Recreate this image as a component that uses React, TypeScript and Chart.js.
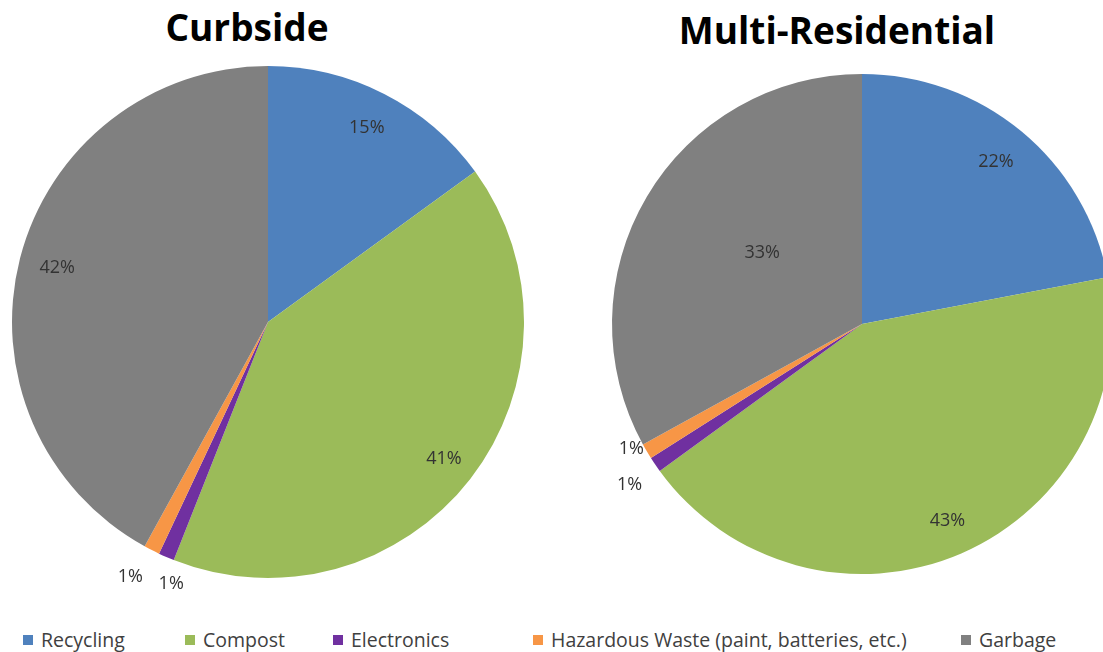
import React, { useEffect, useRef } from "react";
import { Chart, registerables } from "chart.js";

Chart.register(...registerables);

const categories = ["Recycling", "Compost", "Electronics", "Hazardous Waste (paint, batteries, etc.)", "Garbage"];
const curbsideValues = [15, 41, 1, 1, 42];
const multiValues = [22, 43, 1, 1, 33];
const colors = ["#4F81BD", "#9BBB59", "#7030A0", "#F79646", "#808080"];
// label placement: radius as fraction of pie radius, and angular nudge in degrees
const curbsideLabelRadius = [0.85, 0.87, 1.09, 1.13, 0.85];
const curbsideLabelNudge = [0, 0, -3.1, 1.4, 0];
const multiLabelRadius = [0.84, 0.86, 1.13, 1.05, 0.49];
const multiLabelNudge = [0, 0, -0.4, 2.1, 4.8];

const labelPlugin = {
  id: "pctLabels",
  afterDatasetsDraw(chart: any, _args: any, opts: any) {
    const ctx = chart.ctx;
    const meta = chart.getDatasetMeta(0);
    const data = chart.data.datasets[0].data as number[];
    const radii: number[] = opts.radii || [];
    const nudges: number[] = opts.nudges || [];
    ctx.save();
    ctx.font = "18px 'Open Sans', sans-serif";
    ctx.fillStyle = "#333333";
    ctx.textAlign = "center";
    ctx.textBaseline = "middle";
    meta.data.forEach((arc: any, i: number) => {
      const p = arc.getProps(["x", "y", "startAngle", "endAngle", "outerRadius"], true);
      const mid = (p.startAngle + p.endAngle) / 2 + ((nudges[i] ?? 0) * Math.PI) / 180;
      const r = p.outerRadius * (radii[i] ?? 0.8);
      ctx.fillText(data[i] + "%", p.x + Math.cos(mid) * r, p.y + Math.sin(mid) * r);
    });
    ctx.restore();
  },
};

function Pie({ values, radii, nudges, cx, cy, R }: { values: number[]; radii: number[]; nudges: number[]; cx: number; cy: number; R: number }) {
  const ref = useRef<HTMLCanvasElement>(null);
  const P = 40;
  const size = 2 * (R + P);
  useEffect(() => {
    if (!ref.current) return;
    const chart = new Chart(ref.current, {
      type: "pie",
      data: {
        labels: categories,
        datasets: [{ data: values, backgroundColor: colors, borderWidth: 0 }],
      },
      options: {
        animation: false,
        responsive: false,
        layout: { padding: P },
        plugins: {
          legend: { display: false },
          tooltip: { enabled: false },
          pctLabels: { radii, nudges },
        } as any,
      },
      plugins: [labelPlugin],
    });
    return () => chart.destroy();
  }, []);
  return (
    <canvas
      ref={ref}
      width={size}
      height={size}
      style={{ position: "absolute", left: cx - R - P, top: cy - R - P, width: size, height: size }}
    />
  );
}

const legendLefts = [23, 185, 333, 533, 961];

export default function App() {
  useEffect(() => {
    document.body.style.margin = "0";
  }, []);
  const titleStyle: React.CSSProperties = {
    position: "absolute",
    fontFamily: "'Open Sans', sans-serif",
    fontWeight: 700,
    fontSize: 37,
    color: "#000",
    whiteSpace: "nowrap",
    transform: "translateX(-50%)",
    lineHeight: 1,
  };
  return (
    <div style={{ position: "fixed", left: 0, top: 0, width: 1103, height: 652, overflow: "hidden", background: "#fff" }}>
      <div style={{ ...titleStyle, left: 247, top: 8 }}>Curbside</div>
      <div style={{ ...titleStyle, left: 837, top: 11 }}>Multi-Residential</div>
      <Pie values={curbsideValues} radii={curbsideLabelRadius} nudges={curbsideLabelNudge} cx={268} cy={322} R={256} />
      <Pie values={multiValues} radii={multiLabelRadius} nudges={multiLabelNudge} cx={862} cy={324} R={250} />
      {categories.map((c, i) => (
        <div
          key={c}
          style={{
            position: "absolute",
            left: legendLefts[i],
            top: 627,
            display: "flex",
            alignItems: "center",
            fontFamily: "'Open Sans', sans-serif",
            fontSize: 19.5,
            color: "#404040",
            whiteSpace: "nowrap",
            lineHeight: "26px",
          }}
        >
          <span style={{ display: "inline-block", width: 10, height: 10, background: colors[i], marginRight: 8 }} />
          {c}
        </div>
      ))}
    </div>
  );
}
